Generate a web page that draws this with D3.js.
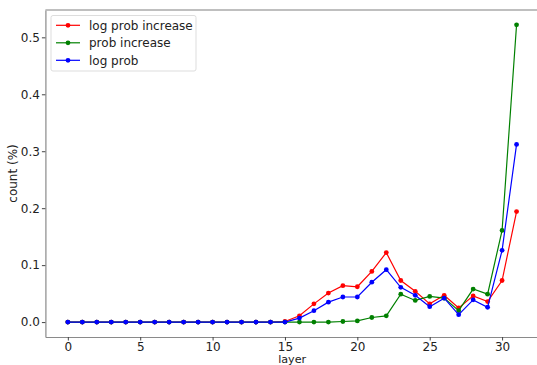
<!DOCTYPE html>
<html>
<head>
<meta charset="utf-8">
<script src="https://d3js.org/d3.v7.min.js"></script>
<style>
  body { margin: 0; background: white; }
  text { font-family: "DejaVu Sans", sans-serif; }
</style>
</head>
<body>
<svg id="chart"></svg>
<script>
// layers 0..31
var layers = d3.range(0, 32);

var logProbIncrease = [0,0,0,0,0,0,0,0,0,0,0,0,0,0,0,0.001,
  0.011,0.032,0.051,0.064,0.062,0.089,0.122,0.073,0.054,0.032,0.047,0.025,0.046,0.036,0.073,0.194];
var probIncrease = [0,0,0,0,0,0,0,0,0,0,0,0,0,0,0,0,
  0,0,0,0.001,0.002,0.008,0.011,0.049,0.038,0.045,0.042,0.020,0.058,0.049,0.161,0.522];
var logProb = [0,0,0,0,0,0,0,0,0,0,0,0,0,0,0,0,
  0.007,0.020,0.035,0.044,0.044,0.070,0.092,0.061,0.047,0.027,0.042,0.013,0.039,0.026,0.126,0.312];

var seriesNames = ["log prob increase", "prob increase", "log prob"];
var seriesColors = ["red", "green", "blue"];
var seriesData = [logProbIncrease, probIncrease, logProb];

var xTicks = [0, 5, 10, 15, 20, 25, 30];
var yTicks = [0.0, 0.1, 0.2, 0.3, 0.4, 0.5];

var W = 537, H = 365;
var mLeft = 45.4, mTop = 10, mBottom = 337, mRight = 539;

var svg = d3.select("#chart").attr("width", W).attr("height", H);

var x = d3.scaleLinear().domain([-1.55, 32.55]).range([mLeft, mRight]);
var y = d3.scaleLinear().domain([-0.0262, 0.548]).range([mBottom, mTop]);

var spine = "#8a8a8a";

// axes
var xAxis = svg.append("g")
  .attr("transform", "translate(0," + mBottom + ")")
  .call(d3.axisBottom(x).tickValues(xTicks).tickFormat(d3.format("d"))
    .tickSize(3.5).tickSizeOuter(0).tickPadding(2));
var yAxis = svg.append("g")
  .attr("transform", "translate(" + mLeft + ",0)")
  .call(d3.axisLeft(y).tickValues(yTicks).tickFormat(d3.format(".1f"))
    .tickSize(3.5).tickSizeOuter(0).tickPadding(2));

[xAxis, yAxis].forEach(function(g) {
  g.attr("font-size", null).attr("font-family", null);
  g.select(".domain").attr("stroke", spine).attr("stroke-width", 1.2);
  g.selectAll(".tick line").attr("stroke", "#444");
  g.selectAll(".tick text").attr("font-size", 12).attr("fill", "#222");
});

// top spine
svg.append("line")
  .attr("x1", mLeft).attr("x2", W).attr("y1", mTop).attr("y2", mTop)
  .attr("stroke", "#aaa").attr("stroke-width", 1.5);

// lines
var line = d3.line()
  .x(function(d, i) { return x(layers[i]); })
  .y(function(d) { return y(d); });

seriesData.forEach(function(vals, k) {
  svg.append("path")
    .datum(vals)
    .attr("d", line)
    .attr("fill", "none")
    .attr("stroke", seriesColors[k])
    .attr("stroke-width", 1.2);
  svg.selectAll(".pt" + k)
    .data(vals)
    .enter().append("circle")
    .attr("cx", function(d, i) { return x(layers[i]); })
    .attr("cy", function(d) { return y(d); })
    .attr("r", 2.4)
    .attr("fill", seriesColors[k]);
});

// axis labels
svg.append("text")
  .attr("x", (mLeft + mRight) / 2).attr("y", 362.8)
  .attr("text-anchor", "middle").attr("font-size", 11.2).attr("fill", "#222")
  .text("layer");
svg.append("text")
  .attr("transform", "translate(16.5," + ((mTop + mBottom) / 2) + ") rotate(-90)")
  .attr("text-anchor", "middle").attr("font-size", 12).attr("fill", "#222")
  .text("count (%)");

// legend
var lg = svg.append("g");
lg.append("rect")
  .attr("x", 51).attr("y", 15.5).attr("width", 145).attr("height", 55.5)
  .attr("rx", 2).attr("fill", "white").attr("fill-opacity", 0.8)
  .attr("stroke", "#ddd");
seriesNames.forEach(function(name, k) {
  var yy = 25.3 + k * 17.5;
  lg.append("line").attr("x1", 56).attr("x2", 80).attr("y1", yy).attr("y2", yy)
    .attr("stroke", seriesColors[k]).attr("stroke-width", 1.2);
  lg.append("circle").attr("cx", 68).attr("cy", yy).attr("r", 2.4).attr("fill", seriesColors[k]);
  lg.append("text").attr("x", 89).attr("y", yy + 4.3)
    .attr("font-size", 12).attr("fill", "#222").text(name);
});
</script>
</body>
</html>
